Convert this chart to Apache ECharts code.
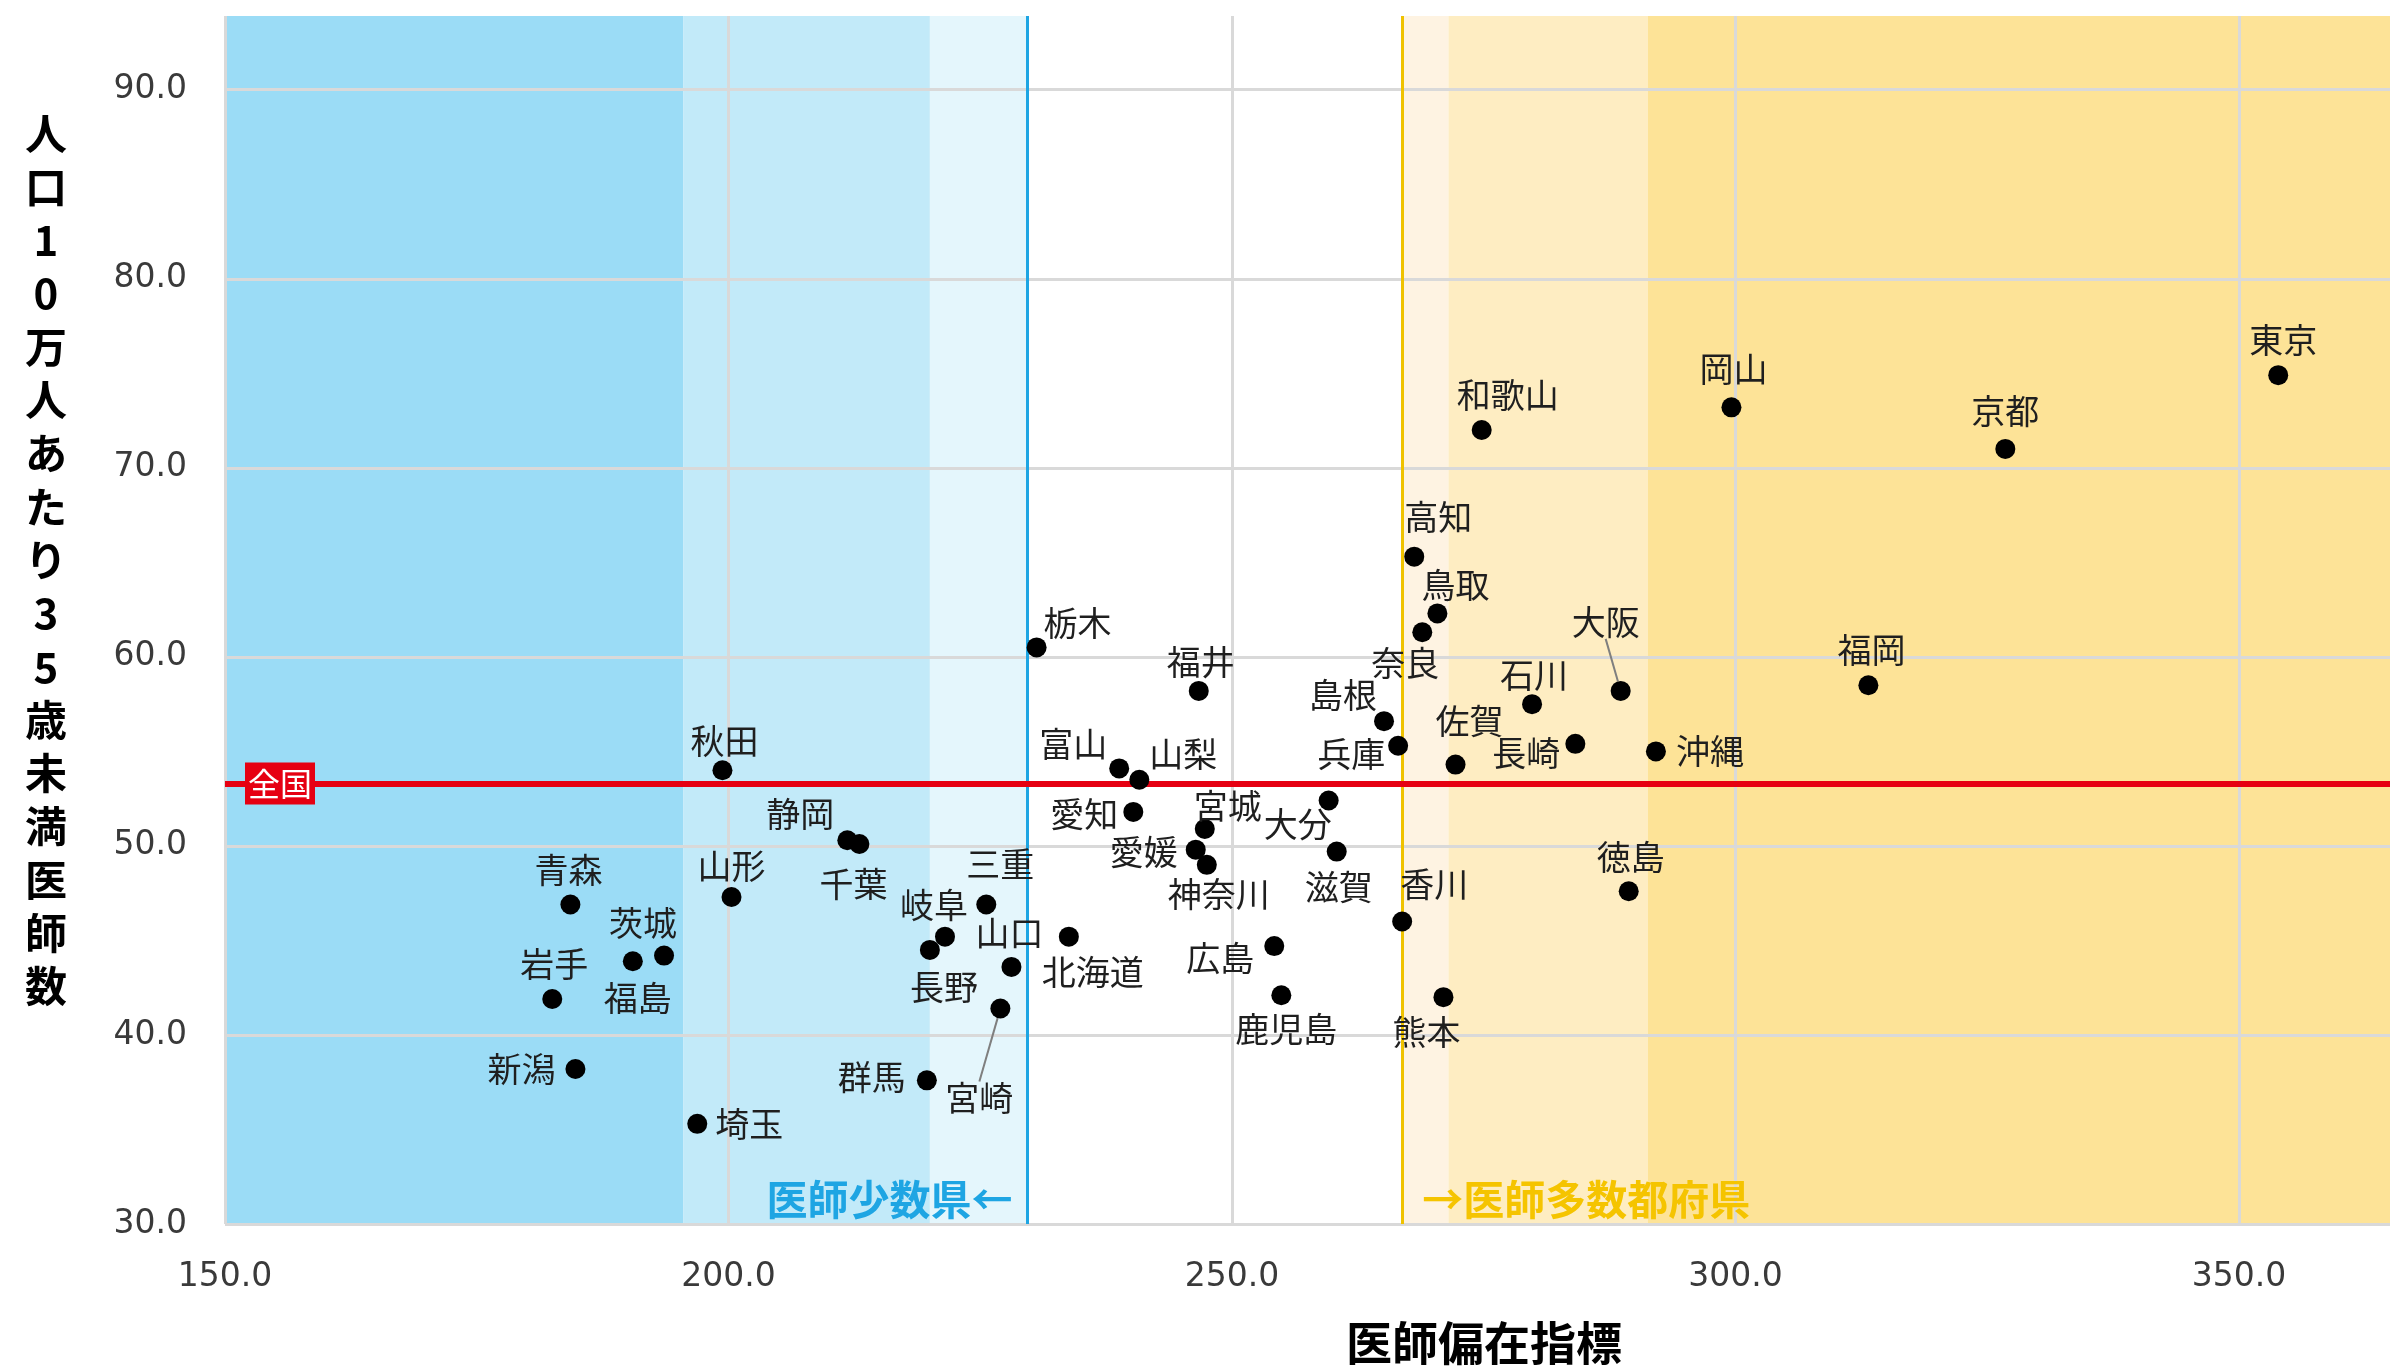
<!DOCTYPE html>
<html>
<head>
<meta charset="utf-8">
<script src="https://cdn.jsdelivr.net/npm/echarts@6/dist/echarts.min.js"></script>
<style>
html, body { margin: 0; padding: 0; background: #fff; }
#chart { width: 2398px; height: 1366px; }
</style>
</head>
<body>
<div id="chart"></div>
<script>
// 都道府県名
var prefNames = ['東京', '京都', '岡山', '和歌山', '高知', '鳥取', '奈良', '大阪', '福岡', '石川',
    '島根', '兵庫', '佐賀', '長崎', '沖縄', '徳島', '香川', '熊本', '鹿児島', '広島',
    '滋賀', '大分', '宮城', '愛媛', '神奈川', '愛知', '山梨', '富山', '福井', '栃木',
    '北海道', '山口', '宮崎', '三重', '岐阜', '長野', '群馬', '千葉', '静岡', '山形',
    '秋田', '埼玉', '青森', '茨城', '福島', '岩手', '新潟'];
// 医師偏在指標（横軸）
var henzaiIndex = [353.9, 326.8, 299.6, 274.8, 268.1, 270.4, 268.9, 288.6, 313.2, 279.8,
    265.1, 266.5, 272.2, 284.1, 292.1, 289.4, 266.9, 271.0, 254.9, 254.2,
    260.4, 259.6, 247.3, 246.4, 247.5, 240.2, 240.8, 238.8, 246.7, 230.6,
    233.8, 228.1, 227.0, 225.6, 221.5, 220.0, 219.7, 213.0, 211.8, 200.3,
    199.4, 196.9, 184.3, 193.6, 190.5, 182.5, 184.8];
// 人口10万人あたり35歳未満医師数（縦軸）
var youngDoctors = [74.9, 71.0, 73.2, 72.0, 65.3, 62.3, 61.3, 58.2, 58.5, 57.5,
    56.6, 55.3, 54.3, 55.4, 55.0, 47.6, 46.0, 42.0, 42.1, 44.7,
    49.7, 52.4, 50.9, 49.8, 49.0, 51.8, 53.5, 54.1, 58.2, 60.5,
    45.2, 43.6, 41.4, 46.9, 45.2, 44.5, 37.6, 50.1, 50.3, 47.3,
    54.0, 35.3, 46.9, 44.2, 43.9, 41.9, 38.2];
var nationalAvg = 53.3;      // 全国
var shosuLine = 229.7;       // 医師少数県の境界
var tasuLine = 266.9;        // 医師多数都府県の境界
// 背景の帯の境界（横軸の値）
var bandEdges = [150, 195.5, 220.0, 229.7, 266.9, 271.5, 291.3, 365];
var bandColors = ['#9bdcf6', '#c2eaf9', '#e4f6fc', null, '#fef3e2', '#feedc2', '#fde397'];

// ラベルの位置（点からのずれ, px）
var labelShift = {
    '東京': [5, -35], '岡山': [2, -38], '京都': [0, -38], '和歌山': [26, -35], '高知': [24, -40],
    '鳥取': [18, -28], '奈良': [-17, 31], '大阪': [-15, -69], '福岡': [3, -35], '石川': [2, -29],
    '島根': [-41, -26], '兵庫': [-47, 8], '佐賀': [14, -44], '長崎': [-49, 9], '沖縄': [54, 0],
    '徳島': [2, -34], '香川': [32, -37], '熊本': [-17, 35], '鹿児島': [5, 34], '広島': [-54, 12],
    '滋賀': [2, 35], '大分': [-31, 24], '宮城': [23, -23], '愛媛': [-52, 2], '神奈川': [12, 29],
    '愛知': [-49, 2], '山梨': [44, -26], '富山': [-46, -24], '福井': [2, -29], '栃木': [41, -24],
    '北海道': [24, 35], '山口': [-2, -34], '宮崎': [-21, 90], '三重': [14, -40], '岐阜': [-11, -32],
    '長野': [14, 37], '群馬': [-55, -3], '千葉': [-6, 40], '静岡': [-47, -26], '山形': [0, -31],
    '秋田': [2, -29], '埼玉': [52, 0], '青森': [-2, -34], '茨城': [-21, -32], '福島': [5, 37],
    '岩手': [2, -35], '新潟': [-54, 0]
};
var leaderNames = ['大阪', '宮崎'];

var chart = echarts.init(document.getElementById('chart'));

var bandData = [];
bandColors.forEach(function (color, i) {
    if (color) {
        bandData.push([{xAxis: bandEdges[i], itemStyle: {color: color}}, {xAxis: bandEdges[i + 1]}]);
    }
});

var points = prefNames.map(function (name, i) {
    var item = {name: name, value: [henzaiIndex[i], youngDoctors[i]]};
    if (leaderNames.indexOf(name) >= 0) {
        item.labelLine = {show: true, lineStyle: {color: '#7f7f7f', width: 2}};
    }
    return item;
});

var cjk = '"Noto Sans CJK JP", "Noto Sans CJK SC", sans-serif';

chart.setOption({
    animation: false,
    backgroundColor: '#fff',
    grid: {left: 225, right: 8, top: 16, bottom: 142},
    xAxis: {
        type: 'value', min: 150, max: 365, interval: 50, z: 2,
        axisLine: {show: false}, axisTick: {show: false},
        splitLine: {show: true, showMaxLine: false, lineStyle: {color: '#d9d9d9', width: 3}},
        axisLabel: {
            showMaxLabel: false, margin: 37, color: '#3a3a3a',
            fontFamily: 'DejaVu Sans', fontSize: 33,
            formatter: function (v) { return v.toFixed(1); }
        }
    },
    yAxis: {
        type: 'value', min: 30, max: 93.9, interval: 10, z: 2,
        axisLine: {show: false}, axisTick: {show: false},
        splitLine: {show: true, showMaxLine: false, lineStyle: {color: '#d9d9d9', width: 3}},
        axisLabel: {
            showMaxLabel: false, margin: 38, color: '#3a3a3a',
            fontFamily: 'DejaVu Sans', fontSize: 33,
            formatter: function (v) { return v.toFixed(1); }
        }
    },
    series: [{
        type: 'scatter', data: [], z: 1, silent: true,
        markArea: {silent: true, z: 1, data: bandData}
    }, {
        type: 'scatter', data: [], z: 5, silent: true,
        markLine: {
            silent: true, z: 5, symbol: ['none', 'none'], label: {show: false},
            data: [
                {xAxis: shosuLine, lineStyle: {color: '#1ea5e3', width: 3, type: 'solid'}},
                {xAxis: tasuLine, lineStyle: {color: '#efc200', width: 3, type: 'solid'}},
                {yAxis: nationalAvg, lineStyle: {color: '#e60012', width: 6, type: 'solid'}}
            ]
        }
    }, {
        type: 'scatter', z: 6, symbolSize: 20,
        itemStyle: {color: '#000', opacity: 1},
        label: {
            show: true, position: 'inside', color: '#1f1f1f',
            fontFamily: cjk, fontSize: 34,
            formatter: function (p) { return p.name; }
        },
        labelLayout: function (p) {
            var s = labelShift[prefNames[p.dataIndex]] || [0, -34];
            return {dx: s[0], dy: s[1]};
        },
        data: points
    }]
});

// 注記（全国, 医師少数県, 医師多数都府県, 軸タイトル）
var pAvg = chart.convertToPixel({gridIndex: 0}, [150, nationalAvg]);
var pShosu = chart.convertToPixel({gridIndex: 0}, [shosuLine, 30]);
var pTasu = chart.convertToPixel({gridIndex: 0}, [tasuLine, 30]);

chart.setOption({
    graphic: [{
        type: 'rect', z: 100,
        shape: {x: pAvg[0] + 20, y: pAvg[1] - 21, width: 70, height: 42},
        style: {fill: '#e60012'}
    }, {
        type: 'text', z: 101, x: pAvg[0] + 55, y: pAvg[1],
        style: {text: '全国', fill: '#fff', font: '32px ' + cjk, align: 'center', verticalAlign: 'middle'}
    }, {
        type: 'text', z: 100, x: pShosu[0] - 15, y: pShosu[1] - 25,
        style: {text: '医師少数県←', fill: '#1ea5e3', font: 'bold 41px ' + cjk, align: 'right', verticalAlign: 'middle'}
    }, {
        type: 'text', z: 100, x: pTasu[0] + 20, y: pTasu[1] - 25,
        style: {text: '→医師多数都府県', fill: '#f5c400', font: 'bold 41px ' + cjk, align: 'left', verticalAlign: 'middle'}
    }, {
        type: 'text', z: 100, x: 46, y: 560,
        style: {
            text: '人口10万人あたり35歳未満医師数'.split('').join('\n'),
            fill: '#000', font: 'bold 42px ' + cjk, lineHeight: 53.3,
            align: 'center', verticalAlign: 'middle'
        }
    }, {
        type: 'text', z: 100, x: 1484, y: 1343,
        style: {text: '医師偏在指標', fill: '#000', font: 'bold 46px ' + cjk, align: 'center', verticalAlign: 'middle'}
    }]
});
</script>
</body>
</html>
